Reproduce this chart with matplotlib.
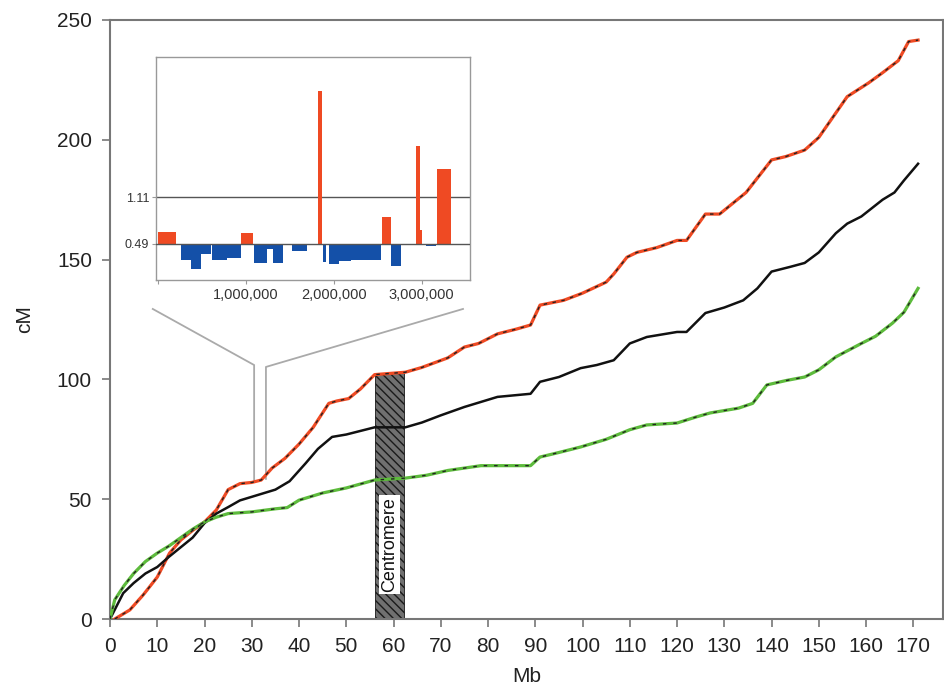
import numpy as np
import matplotlib
matplotlib.use("Agg")
import matplotlib.pyplot as plt
from matplotlib.patches import Rectangle

plt.rcParams['font.family'] = ['Liberation Sans', 'DejaVu Sans']

# genetic map curves (Mb -> cM)
red_mb = [1, 4.2, 7, 10, 12.6, 15, 17.5, 20, 22.5, 25, 27.5, 30, 32, 34.3, 37, 40, 43, 46.3, 48,
          50.5, 53, 56, 62.5, 66, 71.5, 75, 78, 82, 86, 89, 91, 96, 100, 105, 106.6, 109.4, 111.5,
          115.7, 120, 122, 126, 129, 134.6, 140, 143, 147, 150, 153, 156, 160.5, 163.5, 166.8, 169, 171]
red_cm = [0, 3.8, 10, 17.5, 27.5, 33, 37, 40.5, 45.5, 54, 56.5, 57, 58, 63, 67, 73, 80, 90, 91,
          92, 96, 102, 103, 105, 109, 113.5, 115, 119, 121, 122.7, 131, 133, 136, 140.6, 144, 151, 153,
          155, 158, 158, 169, 169, 178, 191.6, 193, 195.7, 201, 209.5, 218, 223.7, 228, 233, 241, 241.6]

black_mb = [0, 2.8, 5, 7.5, 10, 12.5, 15, 17.5, 20, 22.5, 25, 27.5, 30, 35, 38, 41.4, 44, 47, 50,
            54, 56, 62.5, 66, 70, 75, 82, 89, 91, 95, 99.6, 103, 106.6, 110, 113.6, 120, 122, 126,
            130, 134, 137, 140, 144, 147, 150, 153.6, 156, 159, 163.5, 166, 168, 171]
black_cm = [0, 10.8, 15, 19, 21.7, 26, 30, 34, 40, 44, 46.7, 49.5, 51, 54, 57.5, 65, 71, 76, 77,
            79, 80, 80, 82, 85, 88.5, 92.7, 94, 99, 101, 104.7, 106, 108, 115, 117.7, 119.8, 119.8, 127.7,
            130, 133, 138, 145, 147, 148.6, 153, 161, 165, 168, 175, 178, 183, 190]

green_mb = [0, 1, 3, 5, 7.5, 10, 12.5, 15, 17.5, 20, 22.5, 25, 30, 35, 37.5, 40, 45, 50, 56, 62.5,
            67, 71.5, 78.5, 85, 89, 91, 95, 99.6, 105, 110, 113.6, 120, 124, 127, 133, 136, 139, 143,
            147, 150, 153.6, 159, 162, 165.6, 168, 171]
green_cm = [0, 8, 14, 19, 24, 27.5, 30.5, 34, 37.5, 40.5, 42.5, 44, 44.7, 46, 46.5, 49.6, 52.6, 54.7, 58, 58.8,
            60, 62, 64, 64, 64, 67.6, 69.5, 71.8, 75, 79, 81, 81.8, 84.3, 86, 88, 90, 97.7, 99.5,
            101, 104, 109.4, 115, 118, 123.5, 128, 138]

centromere = (56.0, 62.3, 102.7)

# inset: recombination ratio in the 3 Mb window (start bp, end bp, value)
bar_start = [0.004e6, 0.261e6, 0.375e6, 0.489e6, 0.621e6, 0.792e6, 0.943e6, 1.095e6, 1.246e6, 1.314e6,
             1.53e6, 1.826e6, 1.883e6, 1.947e6, 2.06e6, 2.193e6, 2.545e6, 2.648e6, 2.932e6, 2.981e6,
             3.045e6, 3.178e6]
bar_end = [0.212e6, 0.375e6, 0.489e6, 0.602e6, 0.792e6, 0.943e6, 1.083e6, 1.246e6, 1.314e6, 1.428e6,
           1.70e6, 1.871e6, 1.917e6, 2.06e6, 2.193e6, 2.534e6, 2.648e6, 2.761e6, 2.981e6, 3.008e6,
           3.159e6, 3.33e6]
bar_val = [0.645, 0.268, 0.145, 0.348, 0.268, 0.30, 0.636, 0.233, 0.42, 0.225,
           0.393, 2.54, 0.247, 0.22, 0.26, 0.268, 0.844, 0.19, 1.80, 0.667,
           0.455, 1.50]
baseline = 0.49
upper = 1.11

RED = '#ef4a23'
GREEN = '#5dbb3c'
BLUE = '#1450a8'
SPINE = '#777777'

fig = plt.figure(figsize=(9.45, 6.96), dpi=100)
ax = fig.add_axes([0.1164, 0.1106, 0.8816, 0.8607])

# centromere block
c0, c1, ctop = centromere
ax.add_patch(Rectangle((c0, 0), c1 - c0, ctop, facecolor='#707070', edgecolor='#1a1a1a',
                       hatch='\\\\\\\\', linewidth=0.6, zorder=1))
ax.text((c0 + c1) / 2, 31, 'Centromere', rotation=90, ha='center', va='center', fontsize=13,
        color='#111111', zorder=5,
        bbox=dict(boxstyle='square,pad=0.12', facecolor='white', edgecolor='none'))

# curves: colored line with black dashes on top
ax.plot(red_mb, red_cm, color=RED, lw=2.3, zorder=3)
ax.plot(red_mb, red_cm, color='#222222', lw=1.0, dashes=(2.5, 4), zorder=4)
ax.plot(black_mb, black_cm, color='#111111', lw=1.8, zorder=3)
ax.plot(green_mb, green_cm, color=GREEN, lw=2.3, zorder=3)
ax.plot(green_mb, green_cm, color='#222222', lw=1.0, dashes=(2.5, 5), zorder=4)

ax.set_xlim(0, 176.3)
ax.set_ylim(0, 250)
ax.set_xticks(np.arange(0, 171, 10))
ax.set_yticks(np.arange(0, 251, 50))
ax.tick_params(direction='out', length=6, width=1.2, color=SPINE, labelsize=15, labelcolor='#222222', pad=7)
for s in ax.spines.values():
    s.set_color(SPINE)
    s.set_linewidth(1.5)
ax.set_xlabel('Mb', fontsize=15, color='#222222', labelpad=8)
ax.set_ylabel('cM', fontsize=15, color='#222222', labelpad=16)

# connector lines from the zoomed window to the inset
cl = dict(color='#aaaaaa', lw=1.3, clip_on=False, zorder=2)
ax.plot([9.05, 30.5, 30.5], [129.4, 106, 58.0], **cl)
ax.plot([74.7, 33.0, 33.0], [129.4, 105.2, 58.5], **cl)

# inset bar chart
ins = fig.add_axes([0.1651, 0.5977, 0.3323, 0.3204])
for x0, x1, v in zip(bar_start, bar_end, bar_val):
    col = RED if v > baseline else BLUE
    ins.bar(x0, v - baseline, width=x1 - x0, bottom=baseline, align='edge', color=col,
            edgecolor='none', zorder=2)
ins.axhline(upper, color='#555555', lw=1.0, zorder=1)
ins.axhline(baseline, color='#555555', lw=1.0, zorder=3)
ins.set_xlim(-0.02e6, 3.55e6)
ins.set_ylim(0, 3.0)
ins.set_xticks([0, 1e6, 2e6, 3e6])
ins.set_xticklabels(['', '1,000,000', '2,000,000', '3,000,000'])
ins.set_yticks([baseline, upper])
ins.set_yticklabels(['0.49', '1.11'])
ins.tick_params(axis='x', direction='out', length=3, color='#999999', labelsize=10.5,
                labelcolor='#333333', pad=3)
ins.tick_params(axis='y', direction='out', length=3, color='#999999', labelsize=9,
                labelcolor='#333333', pad=2)
for s in ins.spines.values():
    s.set_color('#999999')
    s.set_linewidth(1.0)

fig.savefig('out.png', dpi=100)
